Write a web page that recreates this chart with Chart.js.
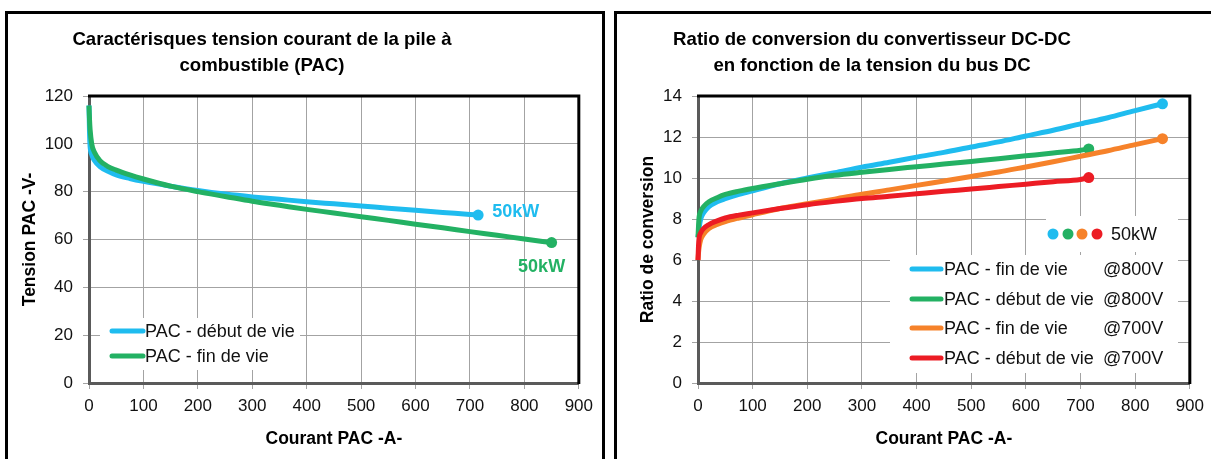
<!DOCTYPE html>
<html lang="fr">
<head>
<meta charset="utf-8">
<title>PAC - tension et ratio de conversion</title>
<script src="https://cdn.jsdelivr.net/npm/chart.js@4.4.1/dist/chart.umd.min.js"></script>
<style>
  html, body { margin: 0; padding: 0; background: #fff; overflow: hidden; }
  body { width: 1211px; height: 459px; position: relative; }
  canvas { position: absolute; top: 0; }
  #tension { left: 0; }
  #ratio { left: 610px; }
  .cadre {
    position: absolute; top: 11px; height: 480px;
    box-sizing: border-box; border: 3px solid #000; pointer-events: none;
  }
</style>
</head>
<body>
<canvas id="tension" width="600" height="459"></canvas>
<canvas id="ratio" width="601" height="459"></canvas>
<div class="cadre" style="left:5px; width:600px;"></div>
<div class="cadre" style="left:614px; width:620px;"></div>
<script>
const courantDebut = [0, 1, 2, 5, 10, 20, 35, 50, 75, 100, 150, 200, 250, 300, 350, 400, 450, 500, 550, 600, 650, 700, 715];
const tensionDebut = [116, 104, 99, 95.5, 93, 90.5, 88.5, 87, 85.5, 84.3, 82.3, 80.5, 79, 77.8, 76.8, 75.8, 74.9, 74, 73.1, 72.2, 71.3, 70.5, 70.2];
const courantFin = [0, 1, 2, 5, 10, 20, 35, 50, 75, 100, 150, 200, 250, 300, 350, 400, 450, 500, 550, 600, 650, 700, 750, 800, 850];
const tensionFin = [116, 110, 106, 100, 96.5, 93, 90.5, 89, 87, 85.3, 82.3, 80, 78, 76, 74.3, 72.6, 71.1, 69.5, 68, 66.4, 64.9, 63.3, 61.8, 60.2, 58.7];

const ratioFin800 = [7.1, 7.3, 7.55, 8.0, 8.29, 8.6, 8.84, 8.99, 9.2, 9.38, 9.72, 10.0, 10.26, 10.53, 10.77, 11.02, 11.25, 11.51, 11.76, 12.05, 12.33, 12.64, 12.94, 13.29, 13.62];
const ratioDebut800 = [7.1, 7.69, 8.08, 8.38, 8.6, 8.84, 9.04, 9.2, 9.36, 9.49, 9.72, 9.94, 10.13, 10.28, 10.42, 10.55, 10.68, 10.81, 10.94, 11.08, 11.22, 11.35, 11.42];
const ratioFin700 = [6.0, 6.36, 6.6, 7.0, 7.25, 7.53, 7.73, 7.87, 8.05, 8.21, 8.51, 8.75, 8.97, 9.21, 9.42, 9.64, 9.85, 10.07, 10.29, 10.54, 10.79, 11.06, 11.33, 11.63, 11.92];
const ratioDebut700 = [6.0, 6.73, 7.07, 7.33, 7.53, 7.73, 7.91, 8.05, 8.19, 8.3, 8.51, 8.7, 8.86, 9.0, 9.11, 9.23, 9.35, 9.46, 9.58, 9.7, 9.82, 9.93, 10.02];

const ticksX = [0, 100, 200, 300, 400, 500, 600, 700, 800, 900];
const ticksTension = [0, 20, 40, 60, 80, 100, 120];
const ticksRatio = [0, 2, 4, 6, 8, 10, 12, 14];

const BLEU = "#1fbcef";
const VERT = "#23b163";
const ORANGE = "#f6822a";
const ROUGE = "#ec1c24";
const POLICE = "'Liberation Sans', Arial, sans-serif";

function serie(label, xs, ys, couleur, ordre) {
  return {
    label: label,
    data: xs.map((x, i) => ({ x: x, y: ys[i] })),
    borderColor: couleur,
    backgroundColor: couleur,
    borderWidth: 5,
    pointRadius: xs.map((x, i) => (i === xs.length - 1 ? 5.5 : 0)),
    pointHoverRadius: 0,
    pointBorderWidth: 0,
    cubicInterpolationMode: "monotone",
    order: ordre,
    clip: false,
  };
}

function axes(ticksY, yMax, titreY, largeurY, paddingTitreY) {
  return {
    x: {
      type: "linear", min: 0, max: 900,
      afterBuildTicks: (s) => { s.ticks = ticksX.map((v) => ({ value: v })); },
      ticks: { font: { family: POLICE, size: 17 }, color: "#111", padding: 7 },
      grid: { color: "#a3a3a3", lineWidth: 1, tickLength: 6 },
      border: { color: "#5a5a5a", width: 3 },
      title: {
        display: true, text: "Courant PAC -A-", color: "#000",
        font: { family: POLICE, size: 17.5, weight: "bold" },
        padding: { top: 0, bottom: 9 },
      },
      afterFit: (s) => { s.height = 76; },
    },
    y: {
      type: "linear", min: 0, max: yMax,
      afterBuildTicks: (s) => { s.ticks = ticksY.map((v) => ({ value: v })); },
      ticks: { font: { family: POLICE, size: 17 }, color: "#111", padding: 10 },
      grid: { color: "#a3a3a3", lineWidth: 1, tickLength: 6 },
      border: { color: "#5a5a5a", width: 3 },
      title: {
        display: true, text: titreY, color: "#000",
        font: { family: POLICE, size: 17.5, weight: "bold" },
        padding: { top: paddingTitreY, bottom: 0 },
      },
      afterFit: (s) => { s.width = largeurY; },
    },
  };
}

// bord noir en haut et a droite de la zone de trace
const bordure = {
  id: "bordure",
  beforeDatasetsDraw(chart) {
    const { ctx, chartArea: a } = chart;
    ctx.save();
    ctx.strokeStyle = "#000";
    ctx.lineWidth = 3;
    ctx.beginPath();
    ctx.moveTo(a.left - 1, a.top);
    ctx.lineTo(a.right, a.top);
    ctx.lineTo(a.right, a.bottom + 1);
    ctx.stroke();
    ctx.restore();
  },
};

const titrePanneau = {
  id: "titrePanneau",
  afterDraw(chart, args, opts) {
    const ctx = chart.ctx;
    ctx.save();
    ctx.font = "bold 18.6px " + POLICE;
    ctx.fillStyle = "#000";
    ctx.textAlign = "center";
    ctx.textBaseline = "middle";
    opts.lignes.forEach((t, i) => ctx.fillText(t, opts.x, opts.y + i * opts.pas));
    ctx.restore();
  },
};

// etiquettes "50kW" placees a partir du dernier point de chaque courbe
const etiquettes = {
  id: "etiquettes",
  afterDatasetsDraw(chart, args, opts) {
    const { ctx, scales } = chart;
    ctx.save();
    ctx.font = "bold 18px " + POLICE;
    ctx.textBaseline = "middle";
    opts.liste.forEach((e) => {
      const d = chart.data.datasets[e.serie].data;
      const p = d[d.length - 1];
      ctx.fillStyle = chart.data.datasets[e.serie].borderColor;
      ctx.textAlign = e.align;
      ctx.fillText(e.texte, scales.x.getPixelForValue(p.x) + e.dx, scales.y.getPixelForValue(p.y) + e.dy);
    });
    ctx.restore();
  },
};

const legende = {
  id: "legende",
  afterDraw(chart, args, opts) {
    const ctx = chart.ctx;
    ctx.save();
    ctx.fillStyle = "#fff";
    opts.boites.forEach((b) => ctx.fillRect(b[0], b[1], b[2], b[3]));
    ctx.font = "18px " + POLICE;
    ctx.textBaseline = "middle";
    ctx.textAlign = "left";
    opts.lignes.forEach((l) => {
      const ds = chart.data.datasets[l.serie];
      ctx.strokeStyle = ds.borderColor;
      ctx.lineWidth = 5;
      ctx.lineCap = "round";
      ctx.beginPath();
      ctx.moveTo(opts.x0 + 2, l.y);
      ctx.lineTo(opts.x1 - 2, l.y);
      ctx.stroke();
      ctx.fillStyle = "#111";
      ctx.fillText(ds.label, opts.xTexte, l.y + 1);
      if (l.suffixe) ctx.fillText(l.suffixe, opts.xSuffixe, l.y + 1);
    });
    if (opts.points) {
      const pts = opts.points;
      pts.x.forEach((x, i) => {
        ctx.fillStyle = chart.data.datasets[pts.series[i]].borderColor;
        ctx.beginPath();
        ctx.arc(x, pts.y, 5.5, 0, Math.PI * 2);
        ctx.fill();
      });
      ctx.fillStyle = "#111";
      ctx.fillText(pts.texte, pts.xTexte, pts.y + 1);
    }
    ctx.restore();
  },
};

new Chart(document.getElementById("tension"), {
  type: "line",
  data: {
    datasets: [
      serie("PAC - début de vie", courantDebut, tensionDebut, BLEU, 1),
      serie("PAC - fin de vie", courantFin, tensionFin, VERT, 0),
    ],
  },
  options: {
    responsive: false,
    animation: false,
    events: [],
    layout: { padding: { top: 96, right: 21, left: 0, bottom: 0 } },
    scales: axes(ticksTension, 120, "Tension PAC -V-", 89, 20),
    plugins: {
      legend: { display: false },
      tooltip: { enabled: false },
      titrePanneau: { lignes: ["Caractérisques tension courant de la pile à", "combustible (PAC)"], x: 262, y: 40, pas: 26 },
      etiquettes: {
        liste: [
          { serie: 0, texte: "50kW", dx: 14, dy: -3, align: "left" },
          { serie: 1, texte: "50kW", dx: -10, dy: 24, align: "center" },
        ],
      },
      legende: {
        boites: [[100, 318, 200, 52]],
        x0: 110, x1: 145, xTexte: 145,
        lignes: [{ serie: 0, y: 331 }, { serie: 1, y: 356 }],
      },
    },
  },
  plugins: [bordure, titrePanneau, etiquettes, legende],
});

new Chart(document.getElementById("ratio"), {
  type: "line",
  data: {
    datasets: [
      serie("PAC - fin de vie", courantFin, ratioFin800, BLEU, 3),
      serie("PAC - début de vie", courantDebut, ratioDebut800, VERT, 2),
      serie("PAC - fin de vie", courantFin, ratioFin700, ORANGE, 1),
      serie("PAC - début de vie", courantDebut, ratioDebut700, ROUGE, 0),
    ],
  },
  options: {
    responsive: false,
    animation: false,
    events: [],
    layout: { padding: { top: 96, right: 21, left: 0, bottom: 0 } },
    scales: axes(ticksRatio, 14, "Ratio de conversion", 88, 27.5),
    plugins: {
      legend: { display: false },
      tooltip: { enabled: false },
      titrePanneau: { lignes: ["Ratio de conversion du convertisseur DC-DC", "en fonction de la tension du bus DC"], x: 262, y: 40, pas: 26 },
      legende: {
        boites: [[436, 216, 132, 36], [280, 255, 288, 118]],
        x0: 300, x1: 333, xTexte: 334, xSuffixe: 493,
        lignes: [
          { serie: 0, y: 269, suffixe: "@800V" },
          { serie: 1, y: 299, suffixe: "@800V" },
          { serie: 2, y: 328, suffixe: "@700V" },
          { serie: 3, y: 358, suffixe: "@700V" },
        ],
        points: { x: [443, 458, 472, 487], y: 234, series: [0, 1, 2, 3], texte: "50kW", xTexte: 501 },
      },
    },
  },
  plugins: [bordure, titrePanneau, legende],
});
</script>
</body>
</html>
